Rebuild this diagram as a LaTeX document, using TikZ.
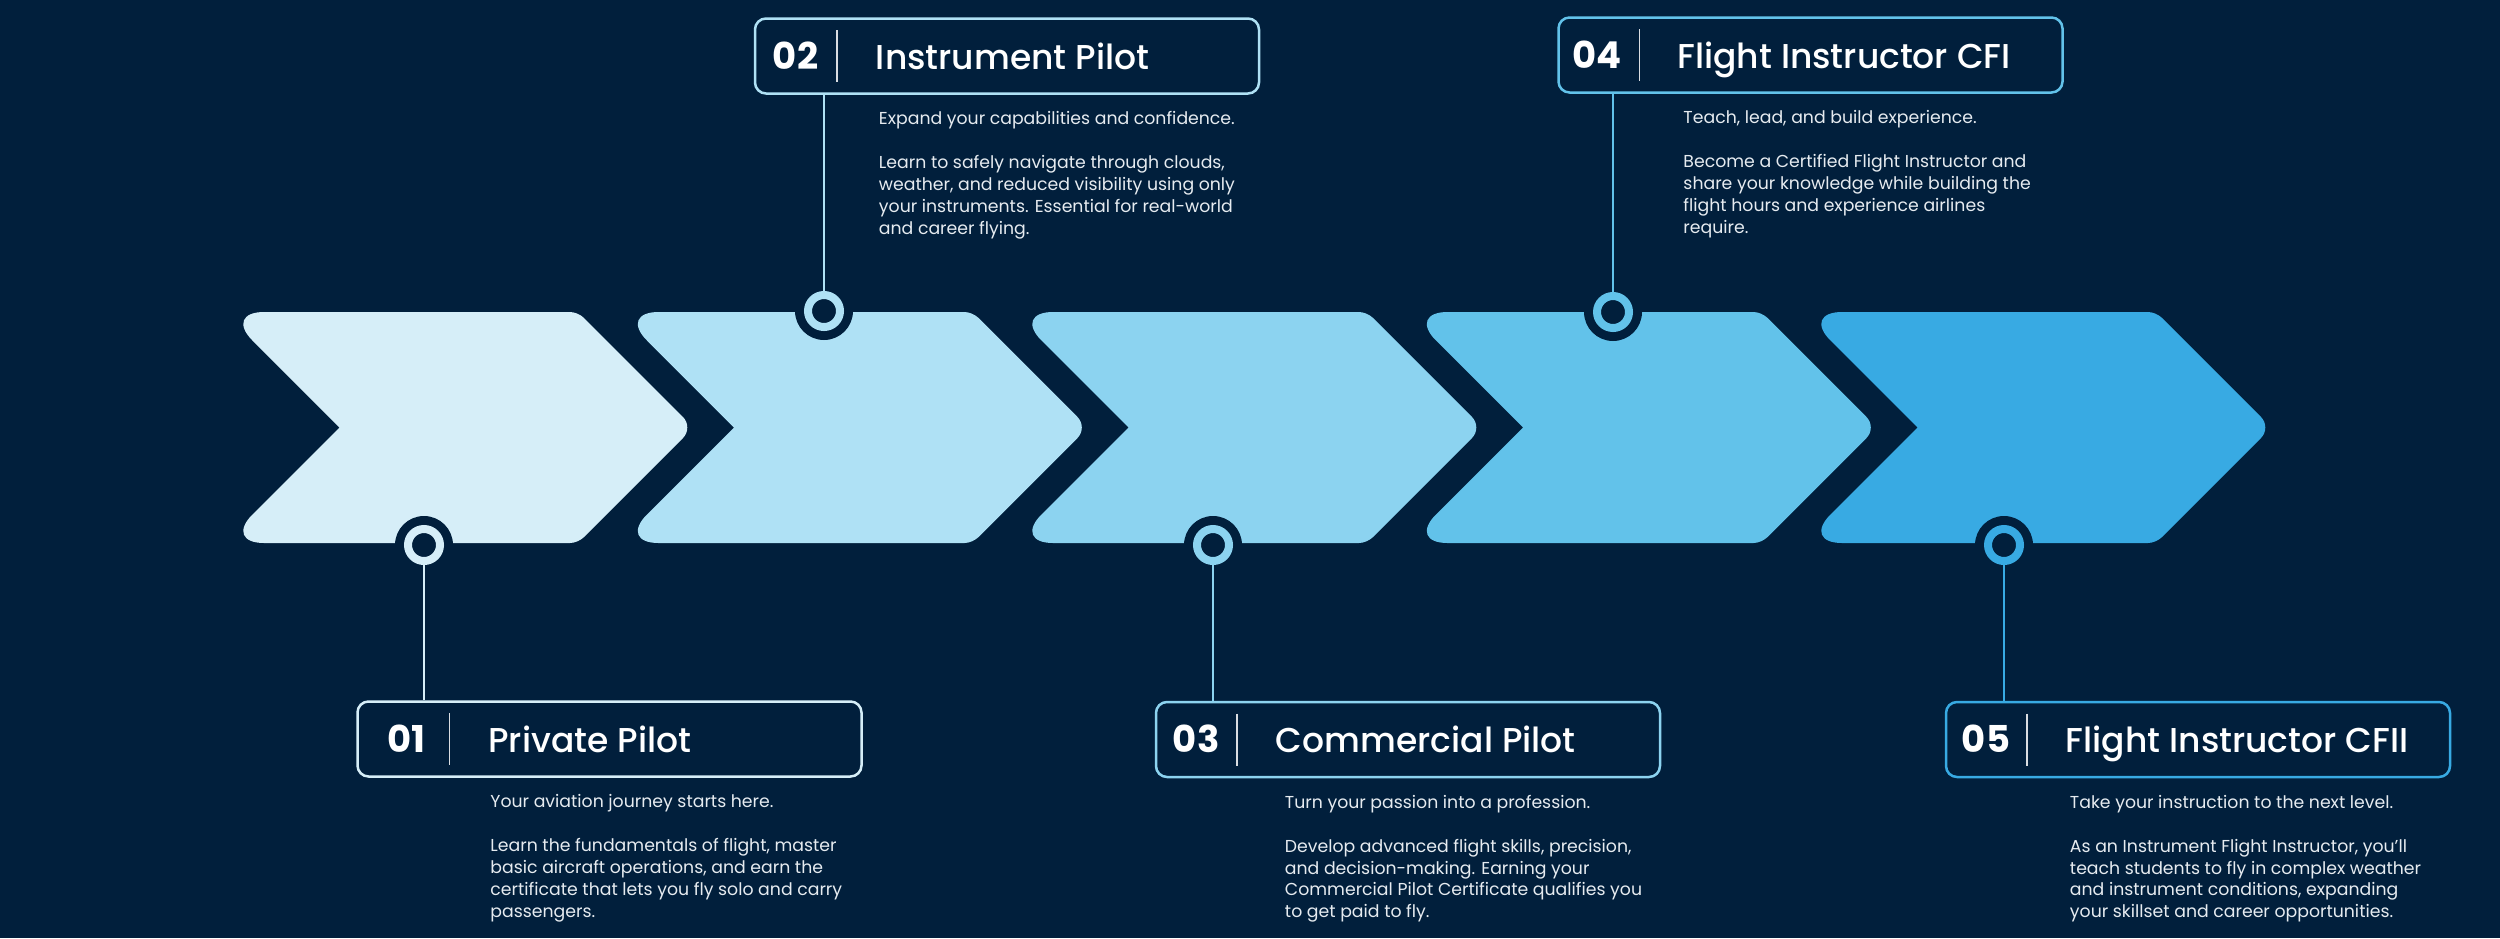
\documentclass[tikz,border=0pt]{standalone}
\usepackage{fontspec}
\setmainfont{Poppins}
\newfontfamily\lvlTitleFam{Poppins Medium}
\usetikzlibrary{positioning,calc}
\definecolor{bgNavy}{HTML}{011F3C}
\definecolor{chevA}{HTML}{D6EEF8}
\definecolor{chevB}{HTML}{AFE1F5}
\definecolor{chevC}{HTML}{8CD3F0}
\definecolor{chevD}{HTML}{62C2EA}
\definecolor{chevE}{HTML}{38AAE3}
\definecolor{descWhite}{HTML}{E6EBF0}
\newcommand\lvlNumFont{\bfseries\fontsize{37}{40}\selectfont}
\newcommand\lvlTitleFont{\lvlTitleFam\fontsize{34.5}{40}\selectfont}
\newcommand\lvlDescFont{\fontsize{17.3}{21.7}\selectfont}

\tikzset{
  lvlbox/.style={draw=#1, line width=2.5pt, rounded corners=11pt, fill=bgNavy,
    minimum width=504pt, minimum height=75pt, inner sep=0pt},
  lvlnum/.style={font=\lvlNumFont, text=white, anchor=base west, inner sep=0pt},
  lvltitle/.style={font=\lvlTitleFont, text=white, anchor=base west, inner sep=0pt},
  % base of a multi-line node = baseline of its last line
  lvldesc/.style={font=\lvlDescFont, text=descWhite, align=left, anchor=base west, inner sep=0pt},
  lvlring/.style={circle, draw=#1, line width=8pt, fill=bgNavy, minimum size=32pt, inner sep=0pt},
  lvlstem/.style={draw=#1, line width=2pt},
  divider/.style={draw=white!85!bgNavy, line width=1.5pt},
}

\begin{document}
\begin{tikzpicture}[x=1pt, y=-1pt]

% --- CANVAS (pixel grid, y pointing down) ---
\useasboundingbox (0,0) rectangle (2500,938);
\fill[bgNavy] (0,0) rectangle (2500,938);

% --- CHEVRONS ---
% Each entry: left x / colour  (roundings switched mid-edge)
\foreach \cx/\cc in {224/chevA, 618.5/chevB, 1013/chevC, 1407.5/chevD, 1802/chevE} {
  \fill[\cc] (\cx+200,312) [rounded corners=8pt] -- (\cx+354,312) -- (\cx+412,370)
    [rounded corners=15pt] -- (\cx+469.5,427.5) -- (\cx+412,485)
    [rounded corners=8pt] -- (\cx+354,543) -- (\cx+200,543)
    [rounded corners=40pt] -- (\cx,543) -- (\cx+58,485)
    [sharp corners] -- (\cx+115.5,427.5) -- (\cx+58,370)
    [rounded corners=40pt] -- (\cx,312) -- cycle;
}

% --- MARKERS ---
\foreach \i/\mx/\my/\cc in {1/424/545/chevA, 2/824/311/chevB, 3/1213/545/chevC,
                            4/1613/312/chevD, 5/2004/545/chevE} {
  \fill[bgNavy] (\mx,\my) circle (29);
  \node[lvlring=\cc] (mk\i) at (\mx,\my) {};
}

% --- LEVEL BOXES ---
\node[lvlbox=chevA] (box1) at (609.5,739) {};
\node[lvlbox=chevB] (box2) at (1007,56) {};
\node[lvlbox=chevC] (box3) at (1408,739.5) {};
\node[lvlbox=chevD] (box4) at (1810.5,55) {};
\node[lvlbox=chevE] (box5) at (2198,739.5) {};

% --- STEMS ---
\draw[lvlstem=chevA] (mk1.south) -- (mk1.south |- box1.north);
\draw[lvlstem=chevB] (mk2.north) -- (mk2.north |- box2.south);
\draw[lvlstem=chevC] (mk3.south) -- (mk3.south |- box3.north);
\draw[lvlstem=chevD] (mk4.north) -- (mk4.north |- box4.south);
\draw[lvlstem=chevE] (mk5.south) -- (mk5.south |- box5.north);

% --- 01 PRIVATE PILOT ---
\node[lvlnum] (num1) at ([xshift=31pt, yshift=-13pt]box1.west) {01};
\draw[divider] ([xshift=93pt, yshift=26pt]box1.west) -- ([xshift=93pt, yshift=-26pt]box1.west);
\node[lvltitle] (ttl1) at ([xshift=132pt, yshift=-13pt]box1.west) {Private Pilot};
\node[lvldesc] (dsc1) at ([xshift=134pt, yshift=-178pt]box1.west)
  {Your aviation journey starts here.\\[22.3pt]
   Learn the fundamentals of flight, master\\
   basic aircraft operations, and earn the\\
   certificate that lets you fly solo and carry\\
   passengers.};

% --- 02 INSTRUMENT PILOT ---
\node[lvlnum] (num2) at ([xshift=19pt, yshift=-13pt]box2.west) {02};
\draw[divider] ([xshift=83pt, yshift=26pt]box2.west) -- ([xshift=83pt, yshift=-26pt]box2.west);
\node[lvltitle] (ttl2) at ([xshift=122pt, yshift=-13pt]box2.west) {Instrument Pilot};
\node[lvldesc] (dsc2) at ([xshift=125pt, yshift=-178pt]box2.west)
  {Expand your capabilities and confidence.\\[22.3pt]
   Learn to safely navigate through clouds,\\
   weather, and reduced visibility using only\\
   your instruments. Essential for real-world\\
   and career flying.};

% --- 03 COMMERCIAL PILOT ---
\node[lvlnum] (num3) at ([xshift=18pt, yshift=-13pt]box3.west) {03};
\draw[divider] ([xshift=82pt, yshift=26pt]box3.west) -- ([xshift=82pt, yshift=-26pt]box3.west);
\node[lvltitle] (ttl3) at ([xshift=121pt, yshift=-13pt]box3.west) {Commercial Pilot};
\node[lvldesc] (dsc3) at ([xshift=130pt, yshift=-178pt]box3.west)
  {Turn your passion into a profession.\\[22.3pt]
   Develop advanced flight skills, precision,\\
   and decision-making. Earning your\\
   Commercial Pilot Certificate qualifies you\\
   to get paid to fly.};

% --- 04 FLIGHT INSTRUCTOR CFI ---
\node[lvlnum] (num4) at ([xshift=15pt, yshift=-13pt]box4.west) {04};
\draw[divider] ([xshift=82pt, yshift=26pt]box4.west) -- ([xshift=82pt, yshift=-26pt]box4.west);
\node[lvltitle] (ttl4) at ([xshift=120pt, yshift=-13pt]box4.west) {Flight Instructor CFI};
\node[lvldesc] (dsc4) at ([xshift=126pt, yshift=-178pt]box4.west)
  {Teach, lead, and build experience.\\[22.3pt]
   Become a Certified Flight Instructor and\\
   share your knowledge while building the\\
   flight hours and experience airlines\\
   require.};

% --- 05 FLIGHT INSTRUCTOR CFII ---
\node[lvlnum] (num5) at ([xshift=17pt, yshift=-13pt]box5.west) {05};
\draw[divider] ([xshift=82pt, yshift=26pt]box5.west) -- ([xshift=82pt, yshift=-26pt]box5.west);
\node[lvltitle] (ttl5) at ([xshift=121pt, yshift=-13pt]box5.west) {Flight Instructor CFII};
\node[lvldesc] (dsc5) at ([xshift=125pt, yshift=-178pt]box5.west)
  {Take your instruction to the next level.\\[22.3pt]
   As an Instrument Flight Instructor, you’ll\\
   teach students to fly in complex weather\\
   and instrument conditions, expanding\\
   your skillset and career opportunities.};

\end{tikzpicture}
\end{document}
